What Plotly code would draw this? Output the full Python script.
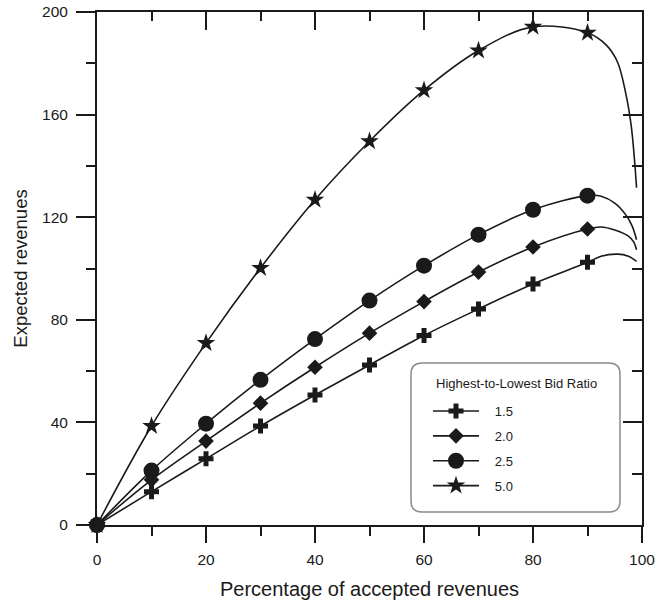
import plotly.graph_objects as go

# Percentage of accepted revenues at which the marked points sit
pct = [0, 10, 20, 30, 40, 50, 60, 70, 80, 90]

# Expected revenues at the marked points, one list per highest-to-lowest bid ratio
rev_15 = [0, 13.0, 25.8, 38.6, 50.7, 62.4, 73.9, 84.2, 94.0, 102.4]
rev_20 = [0, 17.6, 32.7, 47.5, 61.5, 74.8, 87.1, 98.6, 108.4, 115.4]
rev_25 = [0, 21.2, 39.5, 56.6, 72.5, 87.5, 101.1, 113.2, 122.9, 128.4]
rev_50 = [0, 38.6, 70.9, 100.2, 126.8, 149.6, 169.5, 185.0, 194.2, 191.9]

# Continuation of each curve beyond the last marked point (no markers drawn there)
tail_pct_15 = [92.5, 95.5, 97.5, 99.0]
tail_rev_15 = [104.8, 105.6, 104.8, 102.8]
tail_pct_20 = [92.5, 95.0, 97.5, 98.5, 99.0]
tail_rev_20 = [116.2, 115.0, 112.6, 110.3, 107.3]
tail_pct_25 = [92.5, 95.0, 97.0, 98.2, 99.0]
tail_rev_25 = [128.2, 125.5, 121.0, 116.5, 111.2]
tail_pct_50 = [93.5, 95.5, 97.0, 98.0, 98.6, 99.0]
tail_rev_50 = [187.0, 180.5, 168.5, 156.0, 143.0, 131.5]

ratio_labels = ["1.5", "2.0", "2.5", "5.0"]

INK = "#1a1a1a"
FONT = "Arial, Liberation Sans, sans-serif"
PAD = "\u00a0\u00a0\u00a0"  # spacing between legend sample and its label

series = [
    (ratio_labels[0], rev_15, tail_pct_15, tail_rev_15, "cross", 12.5),
    (ratio_labels[1], rev_20, tail_pct_20, tail_rev_20, "diamond", 12),
    (ratio_labels[2], rev_25, tail_pct_25, tail_rev_25, "circle", 16),
    (ratio_labels[3], rev_50, tail_pct_50, tail_rev_50, "star", 14),
]

fig = go.Figure()
for name, rev, tx, ty, sym, size in series:
    xs = pct + tx
    ys = rev + ty
    # markers only on the 10 % grid; tail points get a transparent marker
    colors = [INK] * len(pct) + ["rgba(0,0,0,0)"] * len(tx)
    fig.add_trace(go.Scatter(
        x=xs, y=ys, name=PAD + name, legendgroup=name,
        mode="lines+markers",
        line=dict(color=INK, width=1.6, shape="spline", smoothing=1.0),
        marker=dict(symbol=sym, size=size, color=colors, line=dict(width=0)),
        cliponaxis=False,
    ))

line_style = dict(showline=True, linecolor=INK, linewidth=2, showgrid=False,
                  zeroline=False, tickcolor=INK, tickwidth=2, automargin=False)
tick_font = dict(family=FONT, size=15.5, color=INK)

x_major = [0, 20, 40, 60, 80, 100]
x_minor = [10, 30, 50, 70, 90]
y_major = [0, 40, 80, 120, 160, 200]
y_minor = [20, 60, 100, 140, 180]

fig.update_layout(
    template="none",
    xaxis=dict(range=[0, 100], tickmode="array", tickvals=x_major, ticks="outside",
               ticklen=16, tickfont=tick_font, ticklabelstandoff=3,
               minor=dict(tickmode="array", tickvals=x_minor, ticks="outside",
                          ticklen=9, tickwidth=2, tickcolor=INK),
               title=dict(text="Percentage of accepted revenues",
                          font=dict(family=FONT, size=20, color=INK), standoff=15),
               **line_style),
    yaxis=dict(range=[0, 200], tickmode="array", tickvals=y_major, ticks="outside",
               ticklen=19, tickfont=tick_font, ticklabelstandoff=5,
               minor=dict(tickmode="array", tickvals=y_minor, ticks="outside",
                          ticklen=9, tickwidth=2, tickcolor=INK),
               title=dict(text="Expected revenues",
                          font=dict(family=FONT, size=18.5, color=INK), standoff=10),
               **line_style),
    # mirrored frame: top and right axes with inward ticks, no labels
    xaxis2=dict(overlaying="x", side="top", range=[0, 100], tickmode="array",
                tickvals=x_major, ticks="inside", ticklen=18, showticklabels=False,
                minor=dict(tickmode="array", tickvals=x_minor, ticks="inside",
                           ticklen=9, tickwidth=2, tickcolor=INK),
                **line_style),
    yaxis2=dict(overlaying="y", side="right", range=[0, 200], tickmode="array",
                tickvals=y_major, ticks="inside", ticklen=19, showticklabels=False,
                minor=dict(tickmode="array", tickvals=y_minor, ticks="inside",
                           ticklen=10, tickwidth=2, tickcolor=INK),
                **line_style),
)
fig.add_trace(go.Scatter(x=[None], y=[None], xaxis="x2", yaxis="y2",
                         showlegend=False, hoverinfo="skip"))

# rounded legend frame and its heading
W, H = 545.0, 513.0
x0, x1 = (411 - 97) / W, (620 - 97) / W
y0, y1 = (525 - 512) / H, (525 - 363) / H
rx, ry = 11 / W, 11 / H
path = (f"M{x0+rx},{y0} L{x1-rx},{y0} Q{x1},{y0} {x1},{y0+ry} "
        f"L{x1},{y1-ry} Q{x1},{y1} {x1-rx},{y1} "
        f"L{x0+rx},{y1} Q{x0},{y1} {x0},{y1-ry} "
        f"L{x0},{y0+ry} Q{x0},{y0} {x0+rx},{y0} Z")
fig.add_shape(type="path", path=path, xref="paper", yref="paper",
              line=dict(color="#8a8a8a", width=1.5), fillcolor="rgba(0,0,0,0)")
fig.add_annotation(text="Highest-to-Lowest Bid Ratio", xref="paper", yref="paper",
                   x=(516 - 97) / W, y=(525 - 383) / H, xanchor="center", yanchor="middle",
                   showarrow=False, font=dict(family=FONT, size=13, color=INK))

fig.update_layout(
    width=656, height=609,
    margin=dict(l=97, r=14, t=12, b=84),
    paper_bgcolor="white", plot_bgcolor="white",
    showlegend=True,
    legend=dict(
        x=(428 - 97) / W, xanchor="left",
        y=(525 - 396) / H, yanchor="top",
        bgcolor="rgba(0,0,0,0)", borderwidth=0,
        font=dict(family=FONT, size=13, color=INK),
        itemwidth=46, tracegroupgap=5,
    ),
)

fig.write_html("out.html")
